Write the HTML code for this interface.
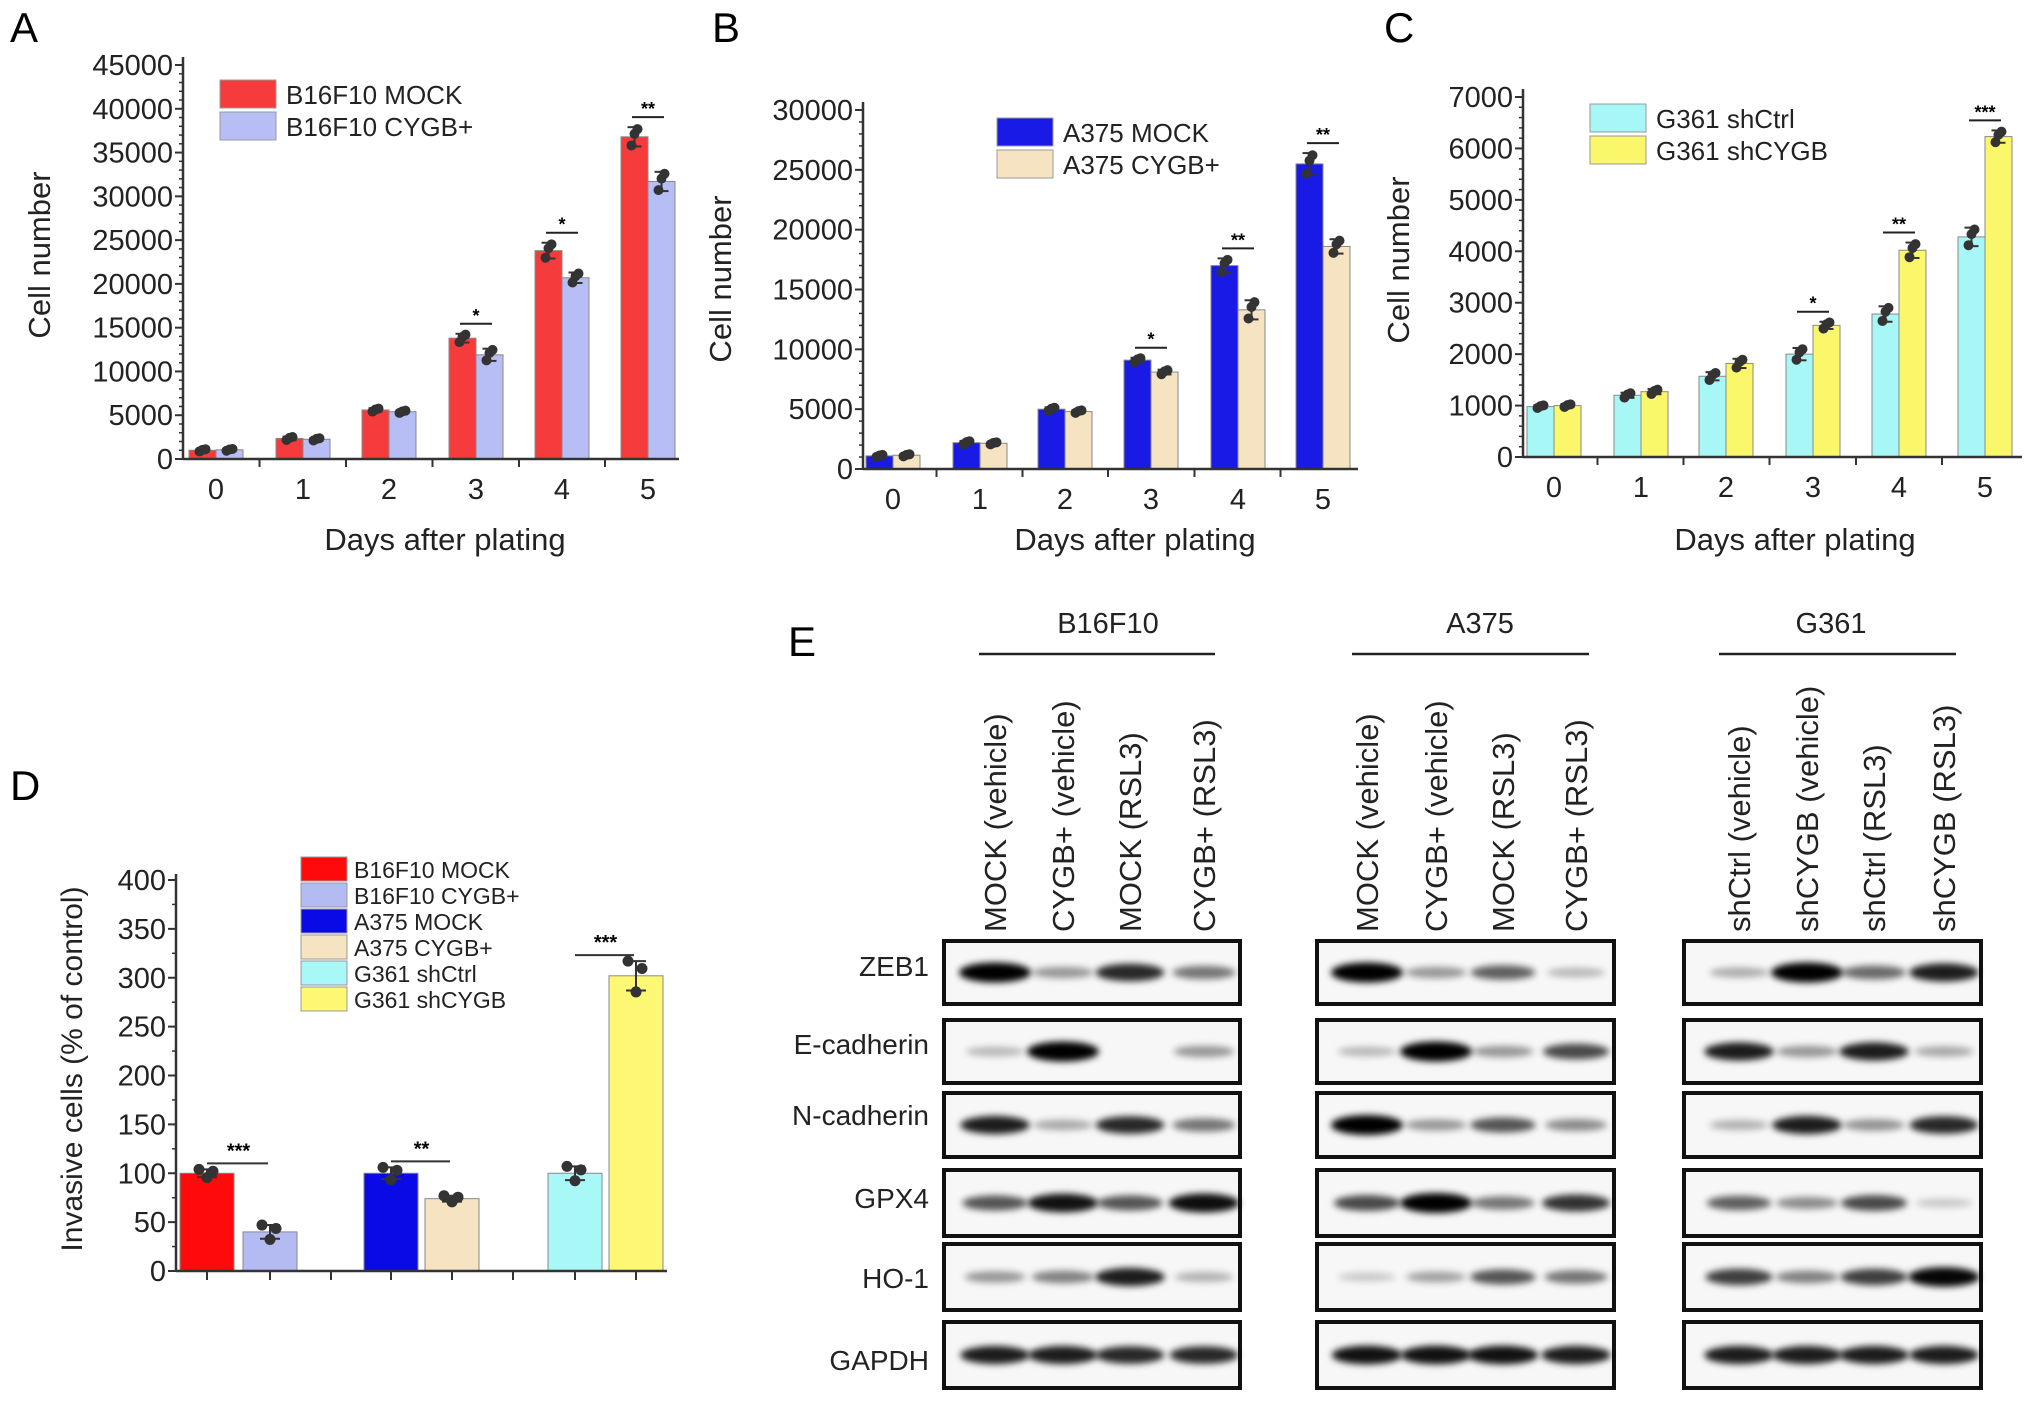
<!DOCTYPE html>
<html><head><meta charset="utf-8"><style>
html,body{margin:0;padding:0;background:#fff}
svg{display:block;font-family:"Liberation Sans",Arial,sans-serif}
</style></head><body>
<svg id="fig" width="2032" height="1405" viewBox="0 0 2032 1405" xmlns="http://www.w3.org/2000/svg">
<defs><filter id="blur" x="-20%" y="-100%" width="140%" height="300%"><feGaussianBlur stdDeviation="3.5"/></filter></defs>
<g id="root"></g>
</svg>
<script>
// ---- Panel A data ----
const daysA = ["0","1","2","3","4","5"];
const b16Mock = [1000,2350,5600,13800,23800,36800];
const b16Cygb = [1050,2250,5400,11900,20700,31700];
const b16MockErr = [150,200,200,500,900,1100];
const b16CygbErr = [120,150,150,700,600,1100];
const sigA = ["","","","*","*","**"];
const ticksA = [0,5000,10000,15000,20000,25000,30000,35000,40000,45000];
// ---- Panel B data ----
const a375Mock = [1100,2200,5000,9100,17000,25500];
const a375Cygb = [1150,2150,4800,8100,13300,18600];
const a375MockErr = [100,150,150,200,600,900];
const a375CygbErr = [100,100,120,200,800,600];
const sigB = ["","","","*","**","**"];
const ticksB = [0,5000,10000,15000,20000,25000,30000];
// ---- Panel C data ----
const g361Ctrl = [980,1200,1570,2000,2780,4280];
const g361Sh = [1000,1270,1820,2560,4020,6230];
const g361CtrlErr = [30,50,80,120,150,180];
const g361ShErr = [30,50,90,70,150,120];
const sigC = ["","","","*","**","***"];
const ticksC = [0,1000,2000,3000,4000,5000,6000,7000];
// ---- Panel D data ----
const invLabels = ["B16F10 MOCK","B16F10 CYGB+","A375 MOCK","A375 CYGB+","G361 shCtrl","G361 shCYGB"];
const invValues = [100,40,100,74,100,302];
const invErr = [4,7,6,3,7,15];
const ticksD = [0,50,100,150,200,250,300,350,400];
// ---- Panel E data (band intensities 0-1) ----
const blotRows = ["ZEB1","E-cadherin","N-cadherin","GPX4","HO-1","GAPDH"];
const bandsB16 = [[1,.3,.8,.45],[.15,1,0,.3],[.85,.22,.8,.45],[.6,.9,.6,.92],[.3,.4,.85,.18],[.85,.85,.8,.8]];
const bandsA375 = [[1,.3,.55,.15],[.15,1,.3,.65],[1,.3,.6,.35],[.65,1,.45,.75],[.08,.25,.6,.45],[.9,.9,.9,.85]];
const bandsG361 = [[.2,1,.5,.85],[.85,.3,.85,.22],[.18,.85,.32,.8],[.55,.35,.65,.08],[.7,.4,.7,.95],[.85,.85,.85,.85]];
const colsB16 = ["MOCK (vehicle)","CYGB+ (vehicle)","MOCK (RSL3)","CYGB+ (RSL3)"];
const colsA375 = ["MOCK (vehicle)","CYGB+ (vehicle)","MOCK (RSL3)","CYGB+ (RSL3)"];
const colsG361 = ["shCtrl (vehicle)","shCYGB (vehicle)","shCtrl (RSL3)","shCYGB (RSL3)"];

const NS="http://www.w3.org/2000/svg";
const root=document.getElementById('root');
function mk(tag,attrs,parent,txt){const e=document.createElementNS(NS,tag);for(const k in attrs)e.setAttribute(k,attrs[k]);if(txt!==undefined)e.textContent=txt;(parent||root).appendChild(e);return e;}

function panelLetter(t,x,y){const e=mk('text',{x:x,y:y,'font-size':42},root,t);

}

function growthChart(o){
  const g=mk('g',{});
  
  
  const y=v=>o.y0-(v/o.ymax)*(o.y0-o.ytop);
  o.s1.forEach((v,i)=>{
    const cx=o.centers[i];
    [[o.s1,o.e1,o.c1,-1,'mock'],[o.s2,o.e2,o.c2,1,'treated']].forEach(([s,e,c,side,lab])=>{
      const bx=side<0?cx-o.bw:cx;
      const r=mk('rect',{x:bx,y:y(s[i]),width:o.bw,height:o.y0-y(s[i]),fill:c,stroke:'#888','stroke-width':1},g);
      
      
      const mx=bx+o.bw/2;
      mk('line',{x1:mx,x2:mx,y1:y(s[i]+e[i]),y2:y(s[i]-e[i]),stroke:'#333','stroke-width':2},g);
      mk('line',{x1:mx-7,x2:mx+7,y1:y(s[i]+e[i]),y2:y(s[i]+e[i]),stroke:'#333','stroke-width':2},g);
      mk('line',{x1:mx-7,x2:mx+7,y1:y(s[i]-e[i]),y2:y(s[i]-e[i]),stroke:'#333','stroke-width':2},g);
      [-0.9,0.3,0.8].forEach((f,k)=>mk('circle',{cx:mx+(k-1)*3,cy:y(s[i]+f*e[i]),r:5,fill:'#333'},g));
    });
    if(o.sig[i]){
      const top=Math.max(o.s1[i]+o.e1[i],o.s2[i]+o.e2[i]);
      const ly=y(top)-10;
      mk('line',{x1:cx-16,x2:cx+16,y1:ly,y2:ly,stroke:'#222','stroke-width':2},g);
      mk('text',{x:cx,y:ly-2,'font-size':18,'text-anchor':'middle','font-weight':'bold'},g,o.sig[i]);
    }
  });
  const ax=mk('g',{},g);
  
  
  mk('line',{x1:o.x0,x2:o.x0,y1:o.ytop-8,y2:o.y0,stroke:'#333','stroke-width':2.5},ax);
  mk('line',{x1:o.x0,x2:o.xend,y1:o.y0,y2:o.y0,stroke:'#333','stroke-width':2.5},ax);
  o.ticks.forEach((t,i)=>{
    mk('line',{x1:o.x0-8,x2:o.x0,y1:y(t),y2:y(t),stroke:'#333','stroke-width':2},ax);
    const tl=mk('text',{x:o.x0-10,y:y(t)+10,'font-size':29,'text-anchor':'end',fill:'#222'},ax,String(t));
    
    
    if(i<o.ticks.length-1){for(let m=1;m<5;m++){const v=t+(o.ticks[1]-o.ticks[0])*m/5;mk('line',{x1:o.x0-4,x2:o.x0,y1:y(v),y2:y(v),stroke:'#333','stroke-width':1.5},ax);}}
  });
  o.centers.forEach((cx,i)=>{
    if(i>0){const bx=(cx+o.centers[i-1])/2;mk('line',{x1:bx,x2:bx,y1:o.y0,y2:o.y0+8,stroke:'#333','stroke-width':2},ax);}
    const tl=mk('text',{x:cx,y:o.y0+40,'font-size':29,'text-anchor':'middle',fill:'#222'},ax,daysA[i]);
    
    
  });
  const xt=mk('text',{x:o.xtx,y:550,'font-size':31,'text-anchor':'middle',fill:'#222'},g,'Days after plating');
  
  
  const yt=mk('text',{x:0,y:0,'font-size':31,'text-anchor':'middle',fill:'#222',transform:`translate(${o.ytx},${o.yty}) rotate(-90)`},g,'Cell number');
  
  
  o.leg.forEach((L,k)=>{
    const le=mk('g',{},g);
    
    
    mk('rect',{x:o.lx,y:o.ly+k*32,width:56,height:28,fill:L[1],stroke:'#999','stroke-width':1},le);
    mk('text',{x:o.lx+66,y:o.ly+k*32+24,'font-size':26,fill:'#222'},le,L[0]);
  });
}

panelLetter('A',10,42);panelLetter('B',712,42);panelLetter('C',1384,42);panelLetter('D',10,800);panelLetter('E',788,656);

growthChart({name:'panel-a-chart',x0:183,xend:679,y0:459,ytop:65,ymax:45000,ticks:ticksA,centers:[216,303,389,476,562,648],bw:27,
 s1:b16Mock,s2:b16Cygb,e1:b16MockErr,e2:b16CygbErr,c1:'#f53b3b',c2:'#b7bdf5',sig:sigA,xtx:445,ytx:50,yty:255,
 lx:220,ly:80,leg:[['B16F10 MOCK','#f53b3b'],['B16F10 CYGB+','#b7bdf5']]});
growthChart({name:'panel-b-chart',x0:863,xend:1358,y0:469,ytop:110,ymax:30000,ticks:ticksB,centers:[893,980,1065,1151,1238,1323],bw:27,
 s1:a375Mock,s2:a375Cygb,e1:a375MockErr,e2:a375CygbErr,c1:'#1a1ae6',c2:'#f5e3c2',sig:sigB,xtx:1135,ytx:731,yty:279,
 lx:997,ly:118,leg:[['A375 MOCK','#1a1ae6'],['A375 CYGB+','#f5e3c2']]});
growthChart({name:'panel-c-chart',x0:1523,xend:2022,y0:457,ytop:97,ymax:7000,ticks:ticksC,centers:[1554,1641,1726,1813,1899,1985],bw:27,
 s1:g361Ctrl,s2:g361Sh,e1:g361CtrlErr,e2:g361ShErr,c1:'#a6f7f5',c2:'#fbf76a',sig:sigC,xtx:1795,ytx:1409,yty:260,
 lx:1590,ly:104,leg:[['G361 shCtrl','#a6f7f5'],['G361 shCYGB','#fbf76a']]});

(function(){
  const colors=['#ff0a0a','#b4baf2','#0a0ae6','#f5e3c2','#a8f8f8','#fcf874'];
  const centers=[207,270,391,452,575,636];
  const x0=176,xend=667,y0=1271,ytop=880,ymax=400,bw=54;
  const y=v=>y0-(v/ymax)*(y0-ytop);
  const g=mk('g',{});
  
  
  invValues.forEach((v,i)=>{
    const bx=centers[i]-bw/2;
    const r=mk('rect',{x:bx,y:y(v),width:bw,height:y0-y(v),fill:colors[i],stroke:'#888','stroke-width':1},g);
    
    
    const cx=centers[i],e=invErr[i];
    mk('line',{x1:cx,x2:cx,y1:y(v+e),y2:y(v-e),stroke:'#333','stroke-width':2},g);
    mk('line',{x1:cx-10,x2:cx+10,y1:y(v+e),y2:y(v+e),stroke:'#333','stroke-width':2},g);
    mk('line',{x1:cx-10,x2:cx+10,y1:y(v-e),y2:y(v-e),stroke:'#333','stroke-width':2},g);
    [[-8,1],[0,-1.1],[6,0.5]].forEach(p=>mk('circle',{cx:cx+p[0],cy:y(v+p[1]*e),r:5.5,fill:'#333'},g));
  });
  [[0,1,'***'],[2,3,'**'],[4,5,'***']].forEach(p=>{
    const top=Math.max(invValues[p[0]]+invErr[p[0]],invValues[p[1]]+invErr[p[1]]);
    const ly=y(top)-6;
    mk('line',{x1:centers[p[0]],x2:centers[p[1]]-2,y1:ly,y2:ly,stroke:'#333','stroke-width':2},g);
    mk('text',{x:(centers[p[0]]+centers[p[1]])/2,y:ly-6,'font-size':20,'text-anchor':'middle','font-weight':'bold'},g,p[2]);
  });
  const ax=mk('g',{},g);
  
  
  mk('line',{x1:x0,x2:x0,y1:ytop-6,y2:y0,stroke:'#333','stroke-width':2.5},ax);
  mk('line',{x1:x0,x2:xend,y1:y0,y2:y0,stroke:'#333','stroke-width':2.5},ax);
  ticksD.forEach((t,i)=>{
    mk('line',{x1:x0-8,x2:x0,y1:y(t),y2:y(t),stroke:'#333','stroke-width':2},ax);
    if(i<ticksD.length-1) mk('line',{x1:x0-4,x2:x0,y1:y(t+25),y2:y(t+25),stroke:'#333','stroke-width':1.5},ax);
    const tl=mk('text',{x:x0-10,y:y(t)+10,'font-size':29,'text-anchor':'end',fill:'#222'},ax,String(t));
    
    
  });
  [207,270,331,391,452,513,575,636].forEach(tx=>mk('line',{x1:tx,x2:tx,y1:y0,y2:y0+9,stroke:'#333','stroke-width':2},ax));
  const yt=mk('text',{x:0,y:0,'font-size':30,'text-anchor':'middle',fill:'#222',transform:'translate(82,1069) rotate(-90)'},g,'Invasive cells (% of control)');
  
  
  invLabels.forEach((L,k)=>{
    const le=mk('g',{},g);
    
    
    mk('rect',{x:301,y:857+k*26,width:46,height:24,fill:colors[k],stroke:'#999','stroke-width':1},le);
    mk('text',{x:354,y:857+k*26+21,'font-size':23,fill:'#222'},le,L);
  });
})();

const rowTops=[941,1020,1093,1170,1244,1322];
const rowH=[63,63,64,66,66,66];
function blotGroup(name,title,cols,bands,bx0,bx1,colX,hx){
  const g=mk('g',{});
  
  
  const h=mk('text',{x:hx,y:633,'font-size':29,'text-anchor':'middle',fill:'#222'},g,title);
  
  
  mk('line',{x1:bx0+35,x2:bx1-25,y1:654,y2:654,stroke:'#222','stroke-width':2.5},g);
  cols.forEach((c,i)=>{
    const t=mk('text',{x:0,y:0,'font-size':31,'text-anchor':'start',fill:'#222',transform:`translate(${colX[i]+11},932) rotate(-90)`},g,c);
    
    
  });
  rowTops.forEach((ry,r)=>{
    const box=mk('rect',{x:bx0,y:ry,width:bx1-bx0,height:rowH[r],fill:'#f7f7f7',stroke:'#111','stroke-width':4},g);
    
    
    bands[r].forEach((v,i)=>{
      if(v<=0.02)return;
      mk('ellipse',{cx:colX[i],cy:ry+rowH[r]/2,rx:28+8*v,ry:4+6*v,fill:'#000','fill-opacity':Math.min(1,0.12+0.9*v),filter:'url(#blur)'},g);
    });
  });
}
blotRows.forEach((r,i)=>{
  const t=mk('text',{x:929,y:[976,1054,1125,1208,1288,1370][i],'font-size':28,'text-anchor':'end',fill:'#222'},root,r);
  
  
});
blotGroup('b16f10','B16F10',colsB16,bandsB16,944,1240,[995,1063,1130,1204],1108);
blotGroup('a375','A375',colsA375,bandsA375,1317,1614,[1367,1436,1503,1576],1480);
blotGroup('g361','G361',colsG361,bandsG361,1684,1981,[1739,1807,1874,1944],1831);
</script>
</body></html>
